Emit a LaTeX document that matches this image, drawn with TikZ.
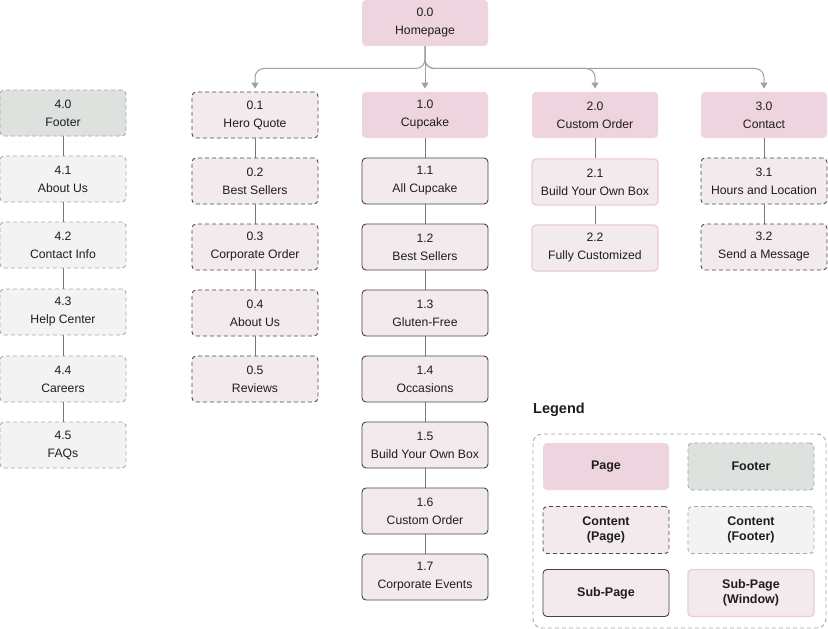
\documentclass[tikz,border=0pt]{standalone}
\usepackage{fontspec}
\setmainfont{Liberation Sans}
\usetikzlibrary{arrows.meta}
\definecolor{pagefill}{RGB}{238,212,222}
\definecolor{footfill}{RGB}{221,226,222}
\definecolor{contfill}{RGB}{243,234,237}
\definecolor{fcontfill}{RGB}{243,243,243}
\definecolor{darkbd}{RGB}{75,75,75}
\definecolor{lightbd}{RGB}{168,168,168}
\definecolor{subbd}{RGB}{70,70,70}
\definecolor{winbd}{RGB}{237,202,213}
\definecolor{linkc}{RGB}{120,120,120}
\definecolor{arrc}{RGB}{160,160,160}
\definecolor{txt}{RGB}{30,30,30}
\tikzset{
  box/.style={rectangle, rounded corners=4pt, minimum width=126pt, minimum height=46pt, inner sep=0pt, align=center, text=txt, font=\fontsize{12.2}{18}\selectfont, line width=0.9pt},
  pagebox/.style={box, fill=pagefill, draw=none},
  footbox/.style={box, fill=footfill, draw=lightbd, dash pattern=on 4pt off 3pt},
  contbox/.style={box, fill=contfill, draw=darkbd, dash pattern=on 4pt off 3pt},
  fcontbox/.style={box, fill=fcontfill, draw=lightbd, dash pattern=on 4pt off 3pt},
  subbox/.style={box, fill=contfill, draw=subbd},
  winbox/.style={box, fill=contfill, draw=winbd, line width=1.3pt},
  link/.style={draw=linkc, line width=0.8pt},
  arr/.style={draw=arrc, line width=1pt, rounded corners=9pt, -{Triangle[width=7pt,length=6pt]}, shorten >=3pt},
  legbox/.style={minimum width=126pt, minimum height=47pt, font=\bfseries\fontsize{12.5}{15}\selectfont}
}
\begin{document}
\begin{tikzpicture}[x=1pt,y=-1pt]
\useasboundingbox (0,0) rectangle (828,629);
% top
\node[pagebox] (h) at (425,23) {0.0\\Homepage};
% column 0
\node[contbox] (c01) at (255,115) {0.1\\Hero Quote};
\node[contbox] (c02) at (255,181) {0.2\\Best Sellers};
\node[contbox] (c03) at (255,247) {0.3\\Corporate Order};
\node[contbox] (c04) at (255,313) {0.4\\About Us};
\node[contbox] (c05) at (255,379) {0.5\\Reviews};
% column 1
\node[pagebox] (c10) at (425,115) {1.0\\Cupcake};
\node[subbox] (c11) at (425,181) {1.1\\All Cupcake};
\node[subbox] (c12) at (425,247) {1.2\\Best Sellers};
\node[subbox] (c13) at (425,313) {1.3\\Gluten-Free};
\node[subbox] (c14) at (425,379) {1.4\\Occasions};
\node[subbox] (c15) at (425,445) {1.5\\Build Your Own Box};
\node[subbox] (c16) at (425,511) {1.6\\Custom Order};
\node[subbox] (c17) at (425,577) {1.7\\Corporate Events};
% column 2
\node[pagebox] (c20) at (595,115) {2.0\\Custom Order};
\node[winbox] (c21) at (595,182) {2.1\\Build Your Own Box};
\node[winbox] (c22) at (595,248) {2.2\\Fully Customized};
% column 3
\node[pagebox] (c30) at (764,115) {3.0\\Contact};
\node[contbox] (c31) at (764,181) {3.1\\Hours and Location};
\node[contbox] (c32) at (764,247) {3.2\\Send a Message};
% footer column
\node[footbox] (f0) at (63,113) {4.0\\Footer};
\node[fcontbox] (f1) at (63,179) {4.1\\About Us};
\node[fcontbox] (f2) at (63,245) {4.2\\Contact Info};
\node[fcontbox] (f3) at (63,312) {4.3\\Help Center};
\node[fcontbox] (f4) at (63,379) {4.4\\Careers};
\node[fcontbox] (f5) at (63,445) {4.5\\FAQs};
% arrows from homepage
\draw[arr] (h.south) -- (c10.north);
\draw[arr] (h.south) -- ++(0,22) -| (c01.north);
\draw[arr] (h.south) -- ++(0,22) -| (c20.north);
\draw[arr] (h.south) -- ++(0,22) -| (c30.north);
% vertical links
\foreach \a/\b in {c01/c02,c02/c03,c03/c04,c04/c05,c10/c11,c11/c12,c12/c13,c13/c14,c14/c15,c15/c16,c16/c17,c20/c21,c21/c22,c30/c31,c31/c32,f0/f1,f1/f2,f2/f3,f3/f4,f4/f5}
  \draw[link] (\a.south) -- (\b.north);
% legend
\node[anchor=west, font=\bfseries\fontsize{14.5}{16}\selectfont, text=txt, inner sep=0pt] (lt) at (533,410) {Legend};
\draw[draw=lightbd, line width=0.9pt, dash pattern=on 4pt off 3pt, rounded corners=9pt] (533,434) rectangle (826,628);
\node[pagebox, legbox] (l1) at (606,466.5) {Page};
\node[footbox, legbox] (l2) at (751,466.5) {Footer};
\node[contbox, legbox] (l3) at (606,530) {Content\\(Page)};
\node[fcontbox, legbox] (l4) at (751,530) {Content\\(Footer)};
\node[subbox, legbox] (l5) at (606,593) {Sub-Page};
\node[winbox, legbox] (l6) at (751,593) {Sub-Page\\(Window)};
\end{tikzpicture}
\end{document}
